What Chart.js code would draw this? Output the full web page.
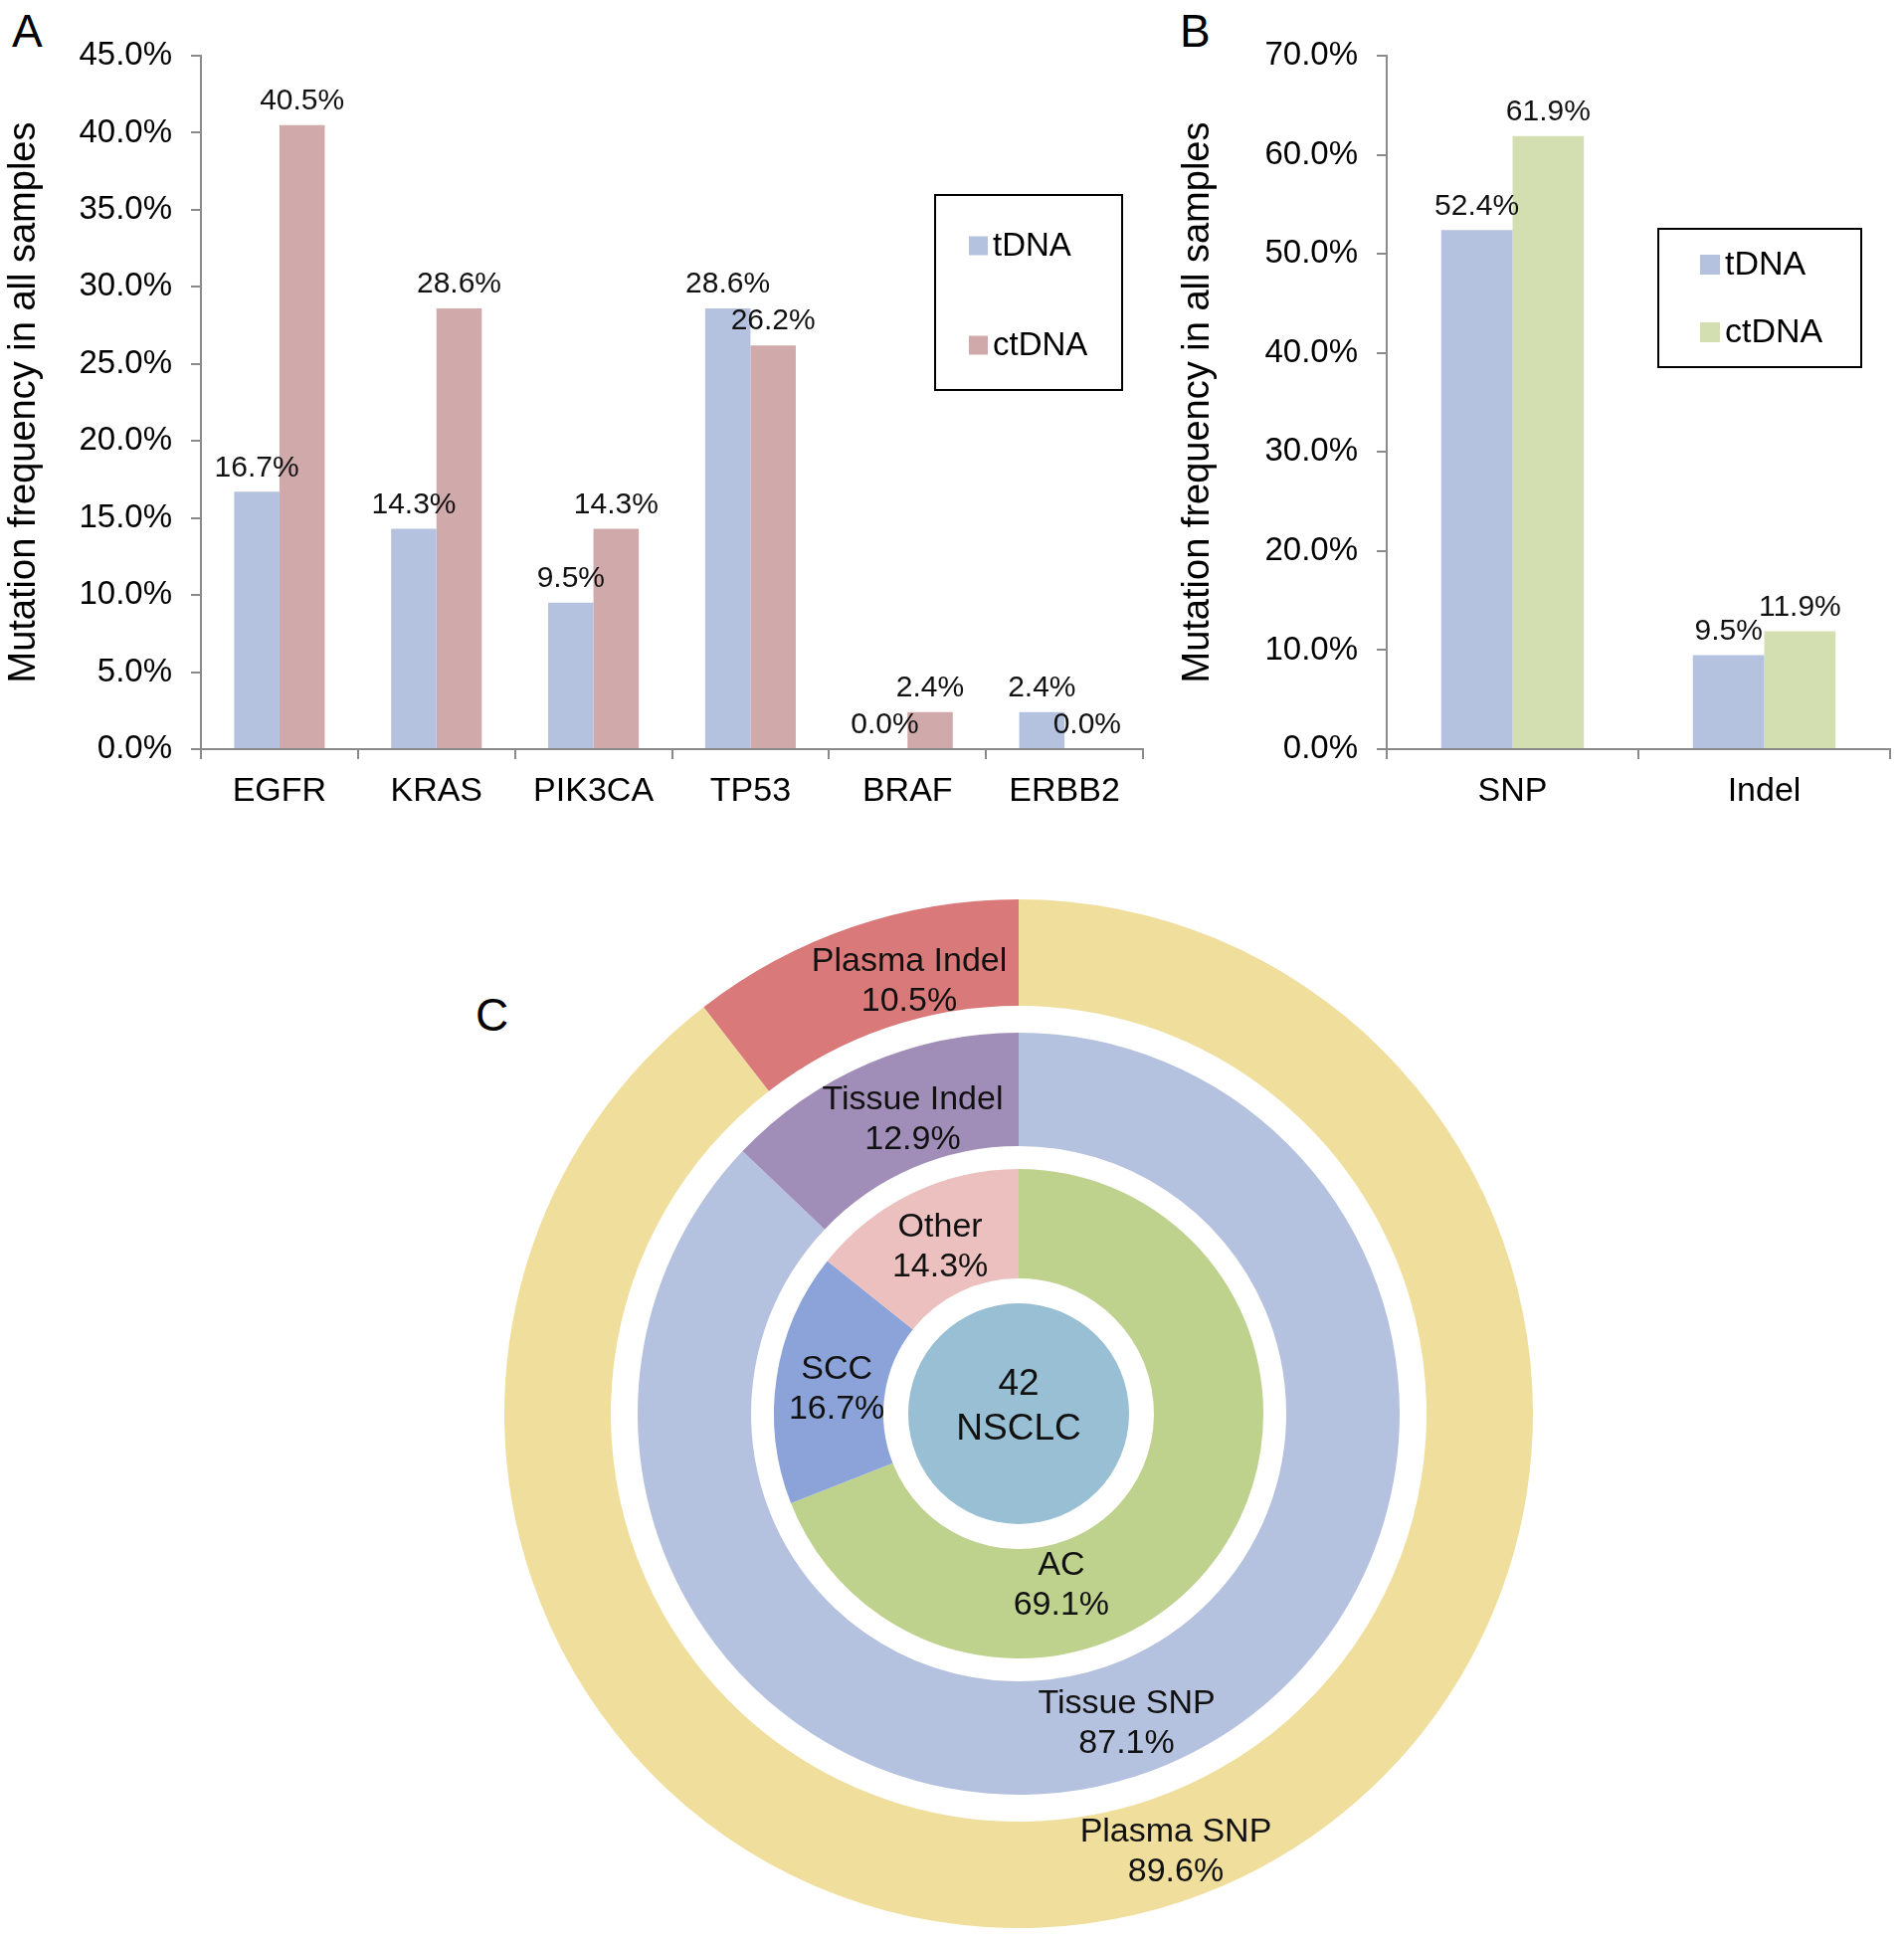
<!DOCTYPE html>
<html>
<head>
<meta charset="utf-8">
<script src="https://cdn.jsdelivr.net/npm/chart.js@4.4.1/dist/chart.umd.min.js"></script>
<style>
  body { margin: 0; background: #fff; }
  #page { position: relative; width: 1914px; height: 1950px; overflow: hidden; font-family: 'Liberation Sans', Arial, sans-serif; }
  canvas { position: absolute; }
  .tag { position: absolute; font-size: 46px; color: #000; line-height: 1; }
</style>
</head>
<body>
<div id="page">
  <div class="tag" style="left:12px; top:8px;">A</div>
  <div class="tag" style="left:1186px; top:8px;">B</div>
  <div class="tag" style="left:478px; top:997px;">C</div>
  <canvas id="geneChart" width="1170" height="840" style="left:0; top:0;"></canvas>
  <canvas id="typeChart" width="734" height="840" style="left:1180px; top:0;"></canvas>
  <canvas id="plasmaRing" width="1060" height="1060" style="left:494px; top:891px;"></canvas>
  <canvas id="tissueRing" width="1060" height="1060" style="left:494px; top:891px;"></canvas>
  <canvas id="subtypeRing" width="1060" height="1060" style="left:494px; top:891px;"></canvas>
  <canvas id="cohortPie" width="1060" height="1060" style="left:494px; top:891px;"></canvas>
</div>
<script>
// Panel A - mutation frequency per gene
const genes = ['EGFR', 'KRAS', 'PIK3CA', 'TP53', 'BRAF', 'ERBB2'];
const geneTissue = [16.7, 14.3, 9.5, 28.6, 0.0, 2.4];
const genePlasma = [40.5, 28.6, 14.3, 26.2, 2.4, 0.0];
const geneAxisMax = 45;
const geneAxisStep = 5;

// Panel B - mutation type
const mutTypes = ['SNP', 'Indel'];
const typeTissue = [52.4, 9.5];
const typePlasma = [61.9, 11.9];
const typeAxisMax = 70;
const typeAxisStep = 10;

// Panel C - rings
const plasmaLabels = ['Plasma SNP', 'Plasma Indel'];
const plasmaValues = [89.6, 10.5];
const tissueLabels = ['Tissue SNP', 'Tissue Indel'];
const tissueValues = [87.1, 12.9];
const subtypeLabels = ['AC', 'SCC', 'Other'];
const subtypeValues = [69.1, 16.7, 14.3];
const cohortLabels = ['NSCLC'];
const cohortCount = [42];

const FONT = "'Liberation Sans', Arial, sans-serif";
const AXIS_GREY = '#8a8a8a';
const C_TDNA = '#b4c1df';

// value labels on top of bars
const barValueLabels = {
    id: 'barValueLabels',
    afterDatasetsDraw(chart, args, opts) {
        const ctx = chart.ctx;
        ctx.save();
        ctx.font = opts.font;
        ctx.fillStyle = '#111';
        ctx.textAlign = 'center';
        ctx.textBaseline = 'bottom';
        chart.data.datasets.forEach((ds, i) => {
            chart.getDatasetMeta(i).data.forEach((bar, j) => {
                ctx.fillText(ds.data[j].toFixed(1) + '%', bar.x, bar.y - opts.gap);
            });
        });
        ctx.restore();
    }
};

// legend drawn in a framed box
const boxLegend = {
    id: 'boxLegend',
    afterDraw(chart, args, opts) {
        const ctx = chart.ctx;
        const [bx, by, bw, bh] = opts.box;
        ctx.save();
        ctx.lineWidth = 2;
        ctx.strokeStyle = '#000';
        ctx.strokeRect(bx, by, bw, bh);
        ctx.font = opts.font;
        ctx.textBaseline = 'middle';
        ctx.textAlign = 'left';
        chart.data.datasets.forEach((ds, i) => {
            const y = opts.rows[i];
            ctx.fillStyle = ds.backgroundColor;
            ctx.fillRect(opts.swatchX, y - opts.swatch / 2, opts.swatch, opts.swatch);
            ctx.fillStyle = '#000';
            ctx.fillText(ds.label, opts.swatchX + opts.swatch + 5, y + 1);
        });
        ctx.restore();
    }
};

function barChart(id, cats, tissue, plasma, plasmaColor, yMax, yStep, axisWidth, padRight, legendOpts, barPct) {
    const canvas = document.getElementById(id);
    return new Chart(canvas, {
        type: 'bar',
        data: {
            labels: cats,
            datasets: [
                { label: 'tDNA', data: tissue, backgroundColor: C_TDNA },
                { label: 'ctDNA', data: plasma, backgroundColor: plasmaColor }
            ]
        },
        plugins: [barValueLabels, boxLegend],
        options: {
            responsive: false,
            animation: false,
            layout: { padding: { top: 56, right: padRight, left: 0, bottom: 0 } },
            datasets: { bar: { categoryPercentage: barPct, barPercentage: 1 } },
            scales: {
                x: {
                    grid: { display: true, drawOnChartArea: false, drawTicks: true, tickLength: 10, color: AXIS_GREY, lineWidth: 2, offset: true },
                    border: { color: AXIS_GREY, width: 2 },
                    ticks: { font: { family: FONT, size: 34 }, color: '#000', padding: 12, maxRotation: 0 },
                    afterFit: s => { s.height = canvas.height - 753; }
                },
                y: {
                    min: 0,
                    max: yMax,
                    grid: { display: true, drawOnChartArea: false, drawTicks: true, tickLength: 10, color: AXIS_GREY, lineWidth: 2 },
                    border: { color: AXIS_GREY, width: 2 },
                    ticks: {
                        stepSize: yStep,
                        font: { family: FONT, size: 33 },
                        color: '#000',
                        padding: 19,
                        callback: v => v.toFixed(1) + '%'
                    },
                    title: {
                        display: true,
                        text: 'Mutation frequency in all samples',
                        font: { family: FONT, size: 38 },
                        color: '#000',
                        padding: { top: 2, bottom: 0 }
                    },
                    afterFit: s => { s.width = axisWidth; }
                }
            },
            plugins: {
                legend: { display: false },
                tooltip: { enabled: false },
                barValueLabels: { font: '30px ' + FONT, gap: 9 },
                boxLegend: legendOpts
            }
        }
    });
}

barChart('geneChart', genes, geneTissue, genePlasma, '#d0a9aa', geneAxisMax, geneAxisStep, 202, 21,
    { box: [940, 196, 188, 196], rows: [247, 347], swatchX: 974, swatch: 19, font: '33px ' + FONT }, 0.577);

barChart('typeChart', mutTypes, typeTissue, typePlasma, '#d4dfb1', typeAxisMax, typeAxisStep, 214, 14,
    { box: [1667 - 1180, 230, 204, 139], rows: [266, 334], swatchX: 1709 - 1180, swatch: 20, font: '34px ' + FONT }, 0.567);

// text labels placed on ring segments
const ringLabels = {
    id: 'ringLabels',
    afterDatasetsDraw(chart, args, opts) {
        const ctx = chart.ctx;
        const ds = chart.data.datasets[0];
        ctx.save();
        ctx.font = opts.font;
        ctx.fillStyle = '#111';
        ctx.textAlign = 'center';
        ctx.textBaseline = 'middle';
        chart.getDatasetMeta(0).data.forEach((arc, i) => {
            // a full pie has its anchor in the middle, ring slices at their centroid
            const p = opts.atCenter ? { x: arc.x, y: arc.y } : arc.tooltipPosition();
            const nudge = (opts.nudge && opts.nudge[i]) || [0, 0];
            const lines = opts.format(chart.data.labels[i], ds.data[i]);
            const x = p.x + nudge[0];
            const y0 = p.y + nudge[1] - (lines.length - 1) * opts.lineGap / 2;
            lines.forEach((t, k) => ctx.fillText(t, x, y0 + k * opts.lineGap));
        });
        ctx.restore();
    }
};

const pctLines = (label, v) => [label, v.toFixed(1) + '%'];

function ring(id, type, labels, values, colors, outer, inner, labelOpts) {
    return new Chart(document.getElementById(id), {
        type: type,
        data: {
            labels: labels,
            datasets: [{ data: values, backgroundColor: colors, borderWidth: 0 }]
        },
        plugins: [ringLabels],
        options: {
            responsive: false,
            animation: false,
            radius: outer,
            cutout: (inner / outer * 100) + '%',
            plugins: {
                legend: { display: false },
                tooltip: { enabled: false },
                ringLabels: labelOpts
            }
        }
    });
}

ring('plasmaRing', 'doughnut', plasmaLabels, plasmaValues, ['#f0de9d', '#d97979'], 517, 410,
    { font: '34px ' + FONT, lineGap: 40, format: pctLines, nudge: { 0: [8, 2], 1: [40, 4] } });
ring('tissueRing', 'doughnut', tissueLabels, tissueValues, ['#b4c1df', '#a08db8'], 383, 269,
    { font: '34px ' + FONT, lineGap: 40, format: pctLines, nudge: { 0: [-20, 12], 1: [22, 4] } });
ring('subtypeRing', 'doughnut', subtypeLabels, subtypeValues, ['#bed18d', '#8ca3d9', '#ebc0bf'], 246, 136,
    { font: '34px ' + FONT, lineGap: 40, format: pctLines, nudge: { 0: [-115, 65], 1: [6, 4], 2: [4, 5] } });
ring('cohortPie', 'pie', cohortLabels, cohortCount, ['#98bfd3'], 111, 0,
    { font: '37px ' + FONT, lineGap: 45, format: (label, v) => [String(v), label], atCenter: true, nudge: { 0: [0, -7] } });
</script>
</body>
</html>
